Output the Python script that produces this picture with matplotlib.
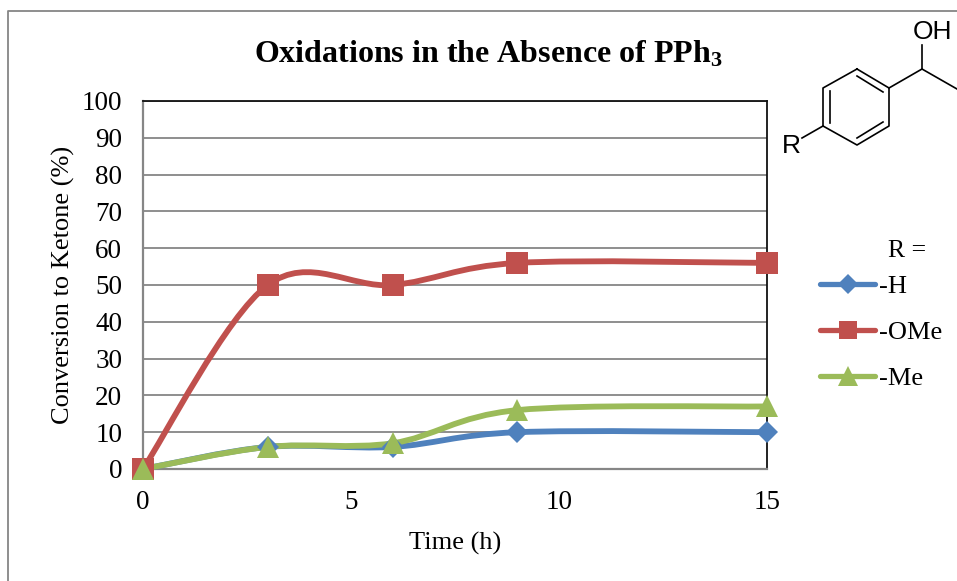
import matplotlib
matplotlib.use("Agg")
import matplotlib.pyplot as plt
import numpy as np
from matplotlib.path import Path
from matplotlib.patches import PathPatch
from matplotlib.lines import Line2D

plt.rcParams['font.family'] = ['Liberation Serif', 'DejaVu Serif']
plt.rcParams['mathtext.fontset'] = 'custom'
plt.rcParams['mathtext.bf'] = 'Liberation Serif:bold'
plt.rcParams['mathtext.rm'] = 'Liberation Serif:bold'

time_h = [0, 3, 6, 9, 15]
conv_h = [0, 6, 6, 10, 10]
conv_ome = [0, 50, 50, 56, 56]
conv_me = [0, 6, 7, 16, 17]
names = ['-H', '-OMe', '-Me']
colors = ['#4F81BD', '#C0504D', '#9BBB59']
markers = ['D', 's', '^']
msizes = [11.5, 15.5, 16]
xticks = [0, 5, 10, 15]
yticks = list(range(0, 101, 10))

W, H = 957, 581

def smooth_path(x, y):
    # excel style smoothed line, bezier through the points
    x = np.array(x, float)
    y = np.array(y, float)
    verts = [(x[0], y[0])]
    codes = [Path.MOVETO]
    n = len(x)
    for i in range(n - 1):
        p0 = max(i - 1, 0)
        p3 = min(i + 2, n - 1)
        verts.append((x[i] + (x[i + 1] - x[p0]) / 6, y[i] + (y[i + 1] - y[p0]) / 6))
        verts.append((x[i + 1] - (x[p3] - x[i]) / 6, y[i + 1] - (y[p3] - y[i]) / 6))
        verts.append((x[i + 1], y[i + 1]))
        codes += [Path.CURVE4] * 3
    return Path(verts, codes)

fig = plt.figure(figsize=(W / 100, H / 100), dpi=100)
ax = fig.add_axes([143 / W, 1 - 469 / H, (767 - 143) / W, (469 - 101) / H])

for vals, c, m, s in zip([conv_h, conv_ome, conv_me], colors, markers, msizes):
    ax.add_patch(PathPatch(smooth_path(time_h, vals), fc='none', ec=c, lw=4.2,
                           capstyle='round', clip_on=False, zorder=3))
    ax.plot(time_h, vals, ls='none', marker=m, color=c, ms=s, mew=0, clip_on=False, zorder=4)

ax.set_xlim(0, 15)
ax.set_ylim(0, 100)
ax.set_xticks(xticks)
ax.set_yticks(yticks)
ax.tick_params(length=0, labelsize=19.5, colors='black')
ax.tick_params(axis='x', pad=15)
ax.tick_params(axis='y', pad=15)
ax.grid(axis='y', color='#868686', lw=1.3)
ax.set_axisbelow(True)
for side in ['top', 'right']:
    ax.spines[side].set_color('#111111')
    ax.spines[side].set_linewidth(1.3)
for side in ['left', 'bottom']:
    ax.spines[side].set_color('#868686')
    ax.spines[side].set_linewidth(1.6)
ax.set_xlabel('Time (h)', fontsize=19, labelpad=12)
ax.set_ylabel('Conversion to Ketone (%)', fontsize=19, labelpad=5)

fig.text(488 / W, 1 - 54 / H, r'Oxidations in the Absence of PPh$\mathbf{_3}$', fontsize=23,
         fontweight='bold', ha='center', va='center')

# overlay in pixel coordinates for frame and structure
ov = fig.add_axes([0, 0, 1, 1], facecolor='none')
ov.set_xlim(0, W)
ov.set_ylim(H, 0)
ov.axis('off')
ov.plot([8, 8, W], [H, 11, 11], color='#868686', lw=1.3)

ring = [(857, 69), (889, 88), (889, 126), (857, 145), (823, 126), (823, 88), (857, 69)]
ov.plot(*zip(*ring), color='black', lw=1.2)
bonds = [[(830, 91), (830, 123)], [(857, 76), (883, 92)], [(857, 138), (883, 122)],
         [(889, 88), (922, 69), (957, 89)], [(922, 69), (922, 45)], [(823, 126), (802, 138)]]
for b in bonds:
    ov.plot(*zip(*b), color='black', lw=1.2)
ov.text(932, 32, 'OH', family='Liberation Sans', fontsize=19, ha='center', va='center')
ov.text(791, 146, 'R', family='Liberation Sans', fontsize=19, ha='center', va='center')

handles = [Line2D([], [], color=c, marker=m, ms=s, lw=3.8, mew=0, solid_capstyle='round')
           for c, m, s in zip(colors, markers, [10.5, 13, 14])]
ax.legend(handles, names, loc='upper left', bbox_to_anchor=(820 / W, 1 - 275 / H),
          bbox_transform=fig.transFigure, frameon=False, fontsize=19, handlelength=2.1,
          handletextpad=0.15, labelspacing=0.84, borderpad=0, borderaxespad=0)
fig.text(907 / W, 1 - 251 / H, 'R =', fontsize=18.5, ha='center', va='center')

fig.savefig('out.png', dpi=100)
